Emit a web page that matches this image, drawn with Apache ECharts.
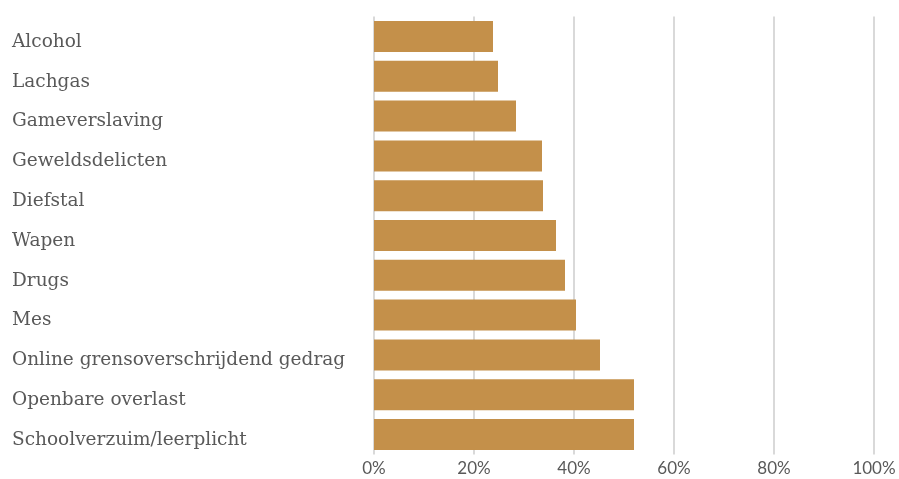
<!DOCTYPE html>
<html>
<head>
<meta charset="utf-8">
<script src="https://cdn.jsdelivr.net/npm/echarts@6/dist/echarts.min.js"></script>
<style>html,body{margin:0;padding:0;background:#fff}#c{width:899px;height:479px}</style>
</head>
<body>
<div id="c"></div>
<script>
const categories = ["Alcohol","Lachgas","Gameverslaving","Geweldsdelicten","Diefstal","Wapen","Drugs","Mes","Online grensoverschrijdend gedrag","Openbare overlast","Schoolverzuim/leerplicht"];
const values = [23.8, 24.8, 28.4, 33.6, 33.8, 36.4, 38.2, 40.4, 45.2, 52.0, 52.0];
const xTicks = [0, 20, 40, 60, 80, 100];

const chart = echarts.init(document.getElementById('c'), null, {renderer: 'canvas'});
chart.setOption({
  animation: false,
  grid: {left: 374, right: 25, top: 16.6, bottom: 24.6, containLabel: false},
  xAxis: {
    type: 'value', min: xTicks[0], max: xTicks[xTicks.length-1], interval: 20,
    axisLine: {show: false}, axisTick: {show: false},
    splitLine: {show: true, lineStyle: {color: '#d9d9d9', width: 2}},
    axisLabel: {formatter: v => v + '%', color: '#595959', fontFamily: 'Lato', fontSize: 17, margin: 6}
  },
  yAxis: {
    type: 'category', data: categories, inverse: true,
    axisLine: {show: false}, axisTick: {show: false},
    axisLabel: {
      align: 'left', margin: 362,
      formatter: v => '{a|' + v + '}',
      rich: {a: {color: '#595959', fontFamily: 'DejaVu Serif', fontSize: 18.5, padding: [11, 0, 0, 0]}}
    }
  },
  series: [{
    type: 'bar', data: values, barCategoryGap: '22%',
    itemStyle: {color: '#c4904a'}
  }]
});
</script>
</body>
</html>
